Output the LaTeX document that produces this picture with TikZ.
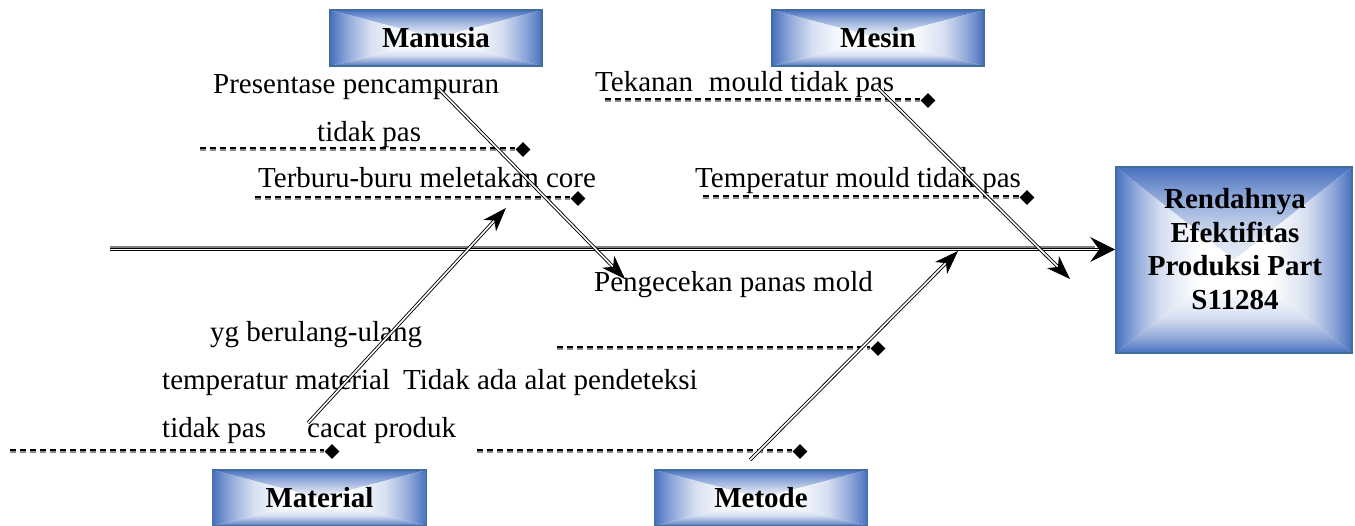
\documentclass[tikz,border=0pt]{standalone}
\usepackage{fontspec}
\setmainfont{Liberation Serif}
\usetikzlibrary{arrows.meta,shapes.geometric,calc}

\definecolor{boxblue}{RGB}{72,112,192}
\definecolor{boxedge}{RGB}{65,110,155}

% edge-to-centre fade: blue at the top edge, white towards the centre
\pgfdeclareverticalshading{edgefade}{100bp}{%
  color(0bp)=(white); color(25bp)=(white); color(40bp)=(white);
  color(56bp)=(boxblue!22); color(67bp)=(boxblue!62); color(75bp)=(boxblue); color(100bp)=(boxblue)}

\tikzset{
  % category / effect boxes with a rectangular blue-to-white gradient
  gradbox/.style={rectangle, draw=boxedge, line width=1.6pt, inner sep=0pt,
    font=\bfseries\fontsize{29}{33.5}\selectfont, align=center,
    path picture={
      \shade[shading=edgefade]
        (path picture bounding box.north west) -- (path picture bounding box.north east)
        -- (path picture bounding box.center) -- cycle;
      \shade[shading=edgefade, shading angle=180]
        (path picture bounding box.south west) -- (path picture bounding box.south east)
        -- (path picture bounding box.center) -- cycle;
      \shade[shading=edgefade, shading angle=90]
        (path picture bounding box.north west) -- (path picture bounding box.south west)
        -- (path picture bounding box.center) -- cycle;
      \shade[shading=edgefade, shading angle=-90]
        (path picture bounding box.north east) -- (path picture bounding box.south east)
        -- (path picture bounding box.center) -- cycle;
    }},
  boxtext/.style={inner sep=0pt, font=\bfseries\fontsize{29}{33.5}\selectfont, align=center},
  txt/.style={anchor=base west, inner sep=0pt, font=\fontsize{29}{34}\selectfont},
  bone/.style={draw=black, double=white, line width=0.9pt, double distance=1.6pt},
  bonetip/.style={line width=1pt, -{Stealth[length=24pt, width=17pt, inset=7pt]}},
  spinetip/.style={line width=1pt, -{Stealth[length=25pt, width=25pt, inset=9pt]}},
  dashtop/.style={draw=black, line width=1.6pt, dash pattern=on 5.5pt off 4.5pt},
  dashbot/.style={draw=black!45, line width=1.5pt, dash pattern=on 5.5pt off 4.5pt},
  diam/.style={diamond, fill=black, inner sep=0pt, minimum size=15pt},
}

\begin{document}
\begin{tikzpicture}[x=1pt, y=-1pt]
\useasboundingbox (0,0) rectangle (1355,526);

% category boxes
\node[gradbox, minimum width=212pt, minimum height=56pt] (manusia) at (436,38) {Manusia};
\node[gradbox, minimum width=212pt, minimum height=56pt] (mesin) at (878,38) {Mesin};
\node[gradbox, minimum width=214pt, minimum height=56pt] (material) at (319.5,498) {Material};
\node[gradbox, minimum width=213pt, minimum height=56pt] (metode) at (761,498) {Metode};

% effect box
\node[gradbox, minimum width=236pt, minimum height=186pt] (effect) at (1234,260) {};
\node[boxtext] (effecttext) at (1235,249) {Rendahnya\\Efektifitas\\Produksi Part\\S11284};

% cause texts
\node[txt] (t1) at (213,94) {Presentase pencampuran};
\node[txt] (t2) at (317,142) {tidak pas};
\node[txt] (t3) at (258,188) {Terburu-buru meletakan core};
\node[txt] (t4) at (595,92) {Tekanan\hspace{0.55em}mould tidak pas};
\node[txt] (t5) at (695,188) {Temperatur mould tidak pas};
\node[txt] (t6) at (594,292) {Pengecekan panas mold};
\node[txt] (t7) at (210,342) {yg berulang-ulang};
\node[txt] (t8) at (162,390) {temperatur material};
\node[txt] (t9) at (403,390) {Tidak ada alat pendeteksi};
\node[txt] (t10) at (162,438) {tidak pas};
\node[txt] (t11) at (307,438) {cacat produk};

% dotted cause lines ending in diamonds
\foreach \n/\xa/\xb/\y in {ca/200/523/148, cb/255/578/197, cc/605/928/99,
    cd/703/1027/196, ce/557/878/347, cf/477/800/450, cg/10/332/450} {
  \coordinate (\n-s) at (\xa,\y);
  \node[diam] (\n-d) at (\xb,\y+1.5) {};
  \draw[dashtop] (\n-s) -- (\n-d.west |- \n-s);
  \draw[dashbot] ($(\n-s)+(0,2.2)$) -- ($(\n-d.west |- \n-s)+(0,2.2)$);
}

% spine
\coordinate (tail) at (110,249.5);
\coordinate (head) at (effect.west |- tail);
\draw[black!50, line width=2pt] ($(tail)+(0,-2.5)$) -- ($(head)+(-20,-2.5)$);
\draw[bone, shorten >=14pt] (tail) -- (head);
\draw[spinetip] ($(head)+(-8,0)$) -- (head);

% bones
\coordinate (ma) at (438,88);  \coordinate (mb) at (625,279);
\coordinate (sa) at (878,88);  \coordinate (sb) at (1070,279);
\coordinate (la) at (308,423); \coordinate (lb) at (506,208);
\coordinate (da) at (750,460); \coordinate (db) at (958,251);
\foreach \a/\b in {ma/mb, sa/sb, la/lb, da/db} {
  \draw[bone, shorten >=12pt] (\a) -- (\b);
  \draw[bonetip] ($(\b)!8pt!(\a)$) -- (\b);
}
\end{tikzpicture}
\end{document}
